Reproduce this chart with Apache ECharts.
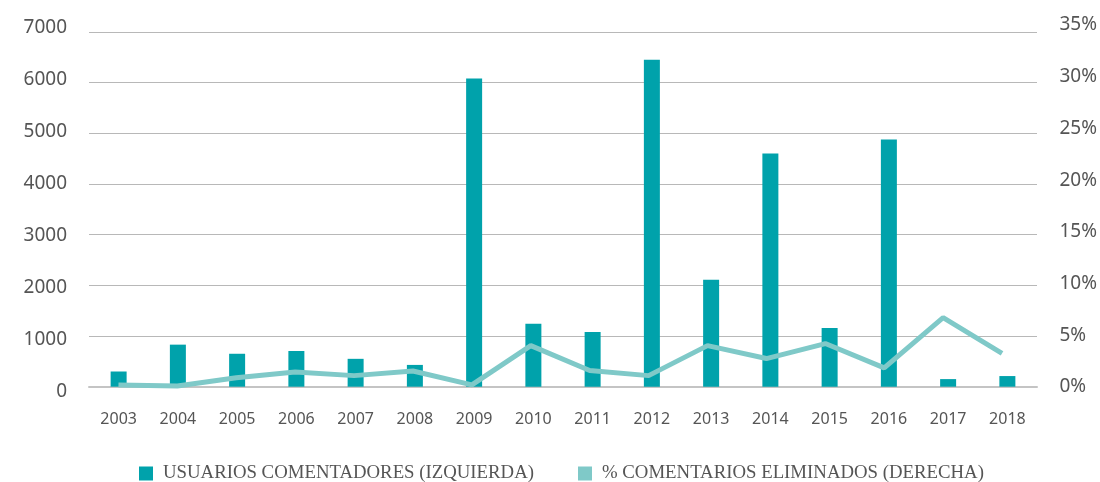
<!DOCTYPE html>
<html><head><meta charset="utf-8">
<script src="https://cdn.jsdelivr.net/npm/echarts@6/dist/echarts.min.js"></script>
<style>html,body{margin:0;padding:0;background:#fff}#c{width:1100px;height:482px}</style>
</head><body><div id="c"></div>
<script>
const years = ['2003','2004','2005','2006','2007','2008','2009','2010','2011','2012','2013','2014','2015','2016','2017','2018'];
const usuarios = [300, 830, 650, 705, 550, 430, 6080, 1240, 1080, 6450, 2110, 4600, 1160, 4880, 150, 210];
const eliminados = [0.2, 0.1, 0.9, 1.45, 1.1, 1.55, 0.2, 4.0, 1.6, 1.1, 4.0, 2.75, 4.2, 1.85, 6.7, 3.25];
const nameBars = 'USUARIOS COMENTADORES (IZQUIERDA)';
const nameLine = '% COMENTARIOS ELIMINADOS (DERECHA)';

const chart = echarts.init(document.getElementById('c'));
const sans = 'Noto Sans';
const L = 89, R = 63;
chart.setOption({
  animation: false,
  grid: [
    {left: L, right: R, top: 32, bottom: 95.3},   // bars + grid lines
    {left: L, right: R, top: 25, bottom: 95},     // line + right labels
    {left: L, right: R, top: 28, bottom: 90}      // left labels
  ],
  legend: {
    top: 459, left: 134, itemWidth: 14, itemHeight: 14, itemGap: 44, icon: 'rect',
    textStyle: {fontFamily: 'Liberation Serif', fontSize: 18.8, color: '#555', padding: [0, 0, 0, 5]},
    data: [nameBars, nameLine]
  },
  xAxis: [
    {type: 'category', data: years, gridIndex: 0,
     axisLine: {lineStyle: {color: '#c4c4c4', width: 2}},
     axisTick: {show: false},
     axisLabel: {fontFamily: sans, fontSize: 16, color: '#555', margin: 25}},
    {type: 'category', data: years, gridIndex: 1, show: false},
    {type: 'category', data: years, gridIndex: 2, show: false}
  ],
  yAxis: [
    {type: 'value', gridIndex: 0, min: 0, max: 7000, interval: 1000,
     axisLabel: {show: false},
     splitLine: {lineStyle: {color: '#b8b8b8', width: 1}},
     axisLine: {show: false}, axisTick: {show: false}},
    {type: 'value', gridIndex: 1, position: 'right', min: 0, max: 35, interval: 5,
     axisLabel: {fontFamily: sans, fontSize: 19, color: '#555', margin: 28, formatter: '{value}%'},
     splitLine: {show: false}, axisLine: {show: false}, axisTick: {show: false}},
    {type: 'value', gridIndex: 2, position: 'left', min: 0, max: 7000, interval: 1000,
     axisLabel: {fontFamily: sans, fontSize: 19, color: '#555', margin: 22, formatter: v => String(v)},
     splitLine: {show: false}, axisLine: {show: false}, axisTick: {show: false}}
  ],
  series: [
    {name: nameBars, type: 'bar', xAxisIndex: 0, yAxisIndex: 0, data: usuarios, barWidth: 16,
     itemStyle: {color: '#00A2AB'}},
    {name: nameLine, type: 'line', xAxisIndex: 1, yAxisIndex: 1, data: eliminados, symbol: 'none',
     lineStyle: {color: '#7FC9C8', width: 5}, itemStyle: {color: '#7FC9C8'}}
  ]
});
</script></body></html>
